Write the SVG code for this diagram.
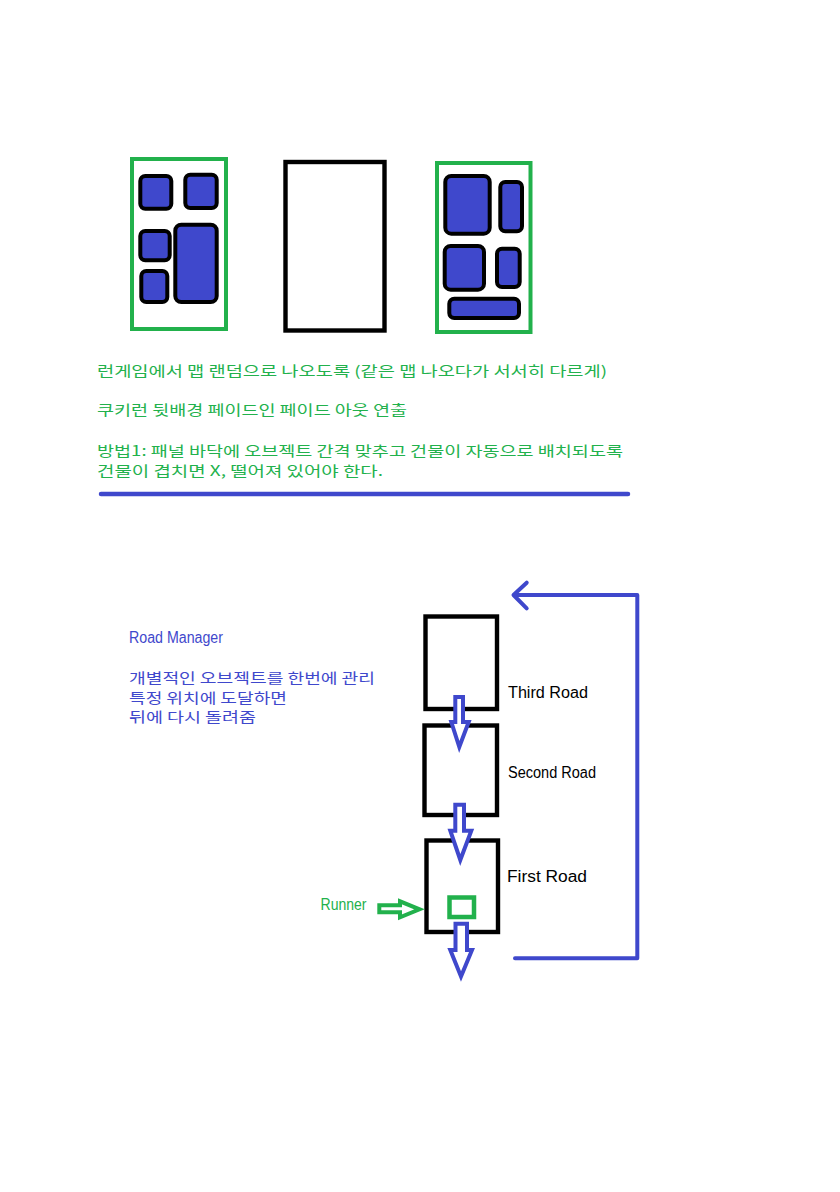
<svg xmlns="http://www.w3.org/2000/svg" width="840" height="1192" viewBox="0 0 840 1192">
<style>
.bg{fill:#ffffff}
.gbox{fill:none;stroke:#22b14c;stroke-width:4}
.kbox{fill:none;stroke:#000000;stroke-width:4.4}
.blk{fill:#3f48cc;stroke:#000000;stroke-width:4}
.ktg{font-family:"Noto Sans CJK KR","Noto Sans",sans-serif;font-size:14px;fill:#22b14c}
.ktb{font-family:"Noto Sans CJK KR","Noto Sans",sans-serif;font-size:14px;fill:#3f48cc}
.lt{font-family:"Liberation Sans","DejaVu Sans",sans-serif;font-size:16px;fill:#000000}
.ltg{font-family:"Liberation Sans","DejaVu Sans",sans-serif;font-size:16px;fill:#22b14c}
.ltb{font-family:"Liberation Sans","DejaVu Sans",sans-serif;font-size:16px;fill:#3f48cc}
.barrow{fill:#ffffff;stroke:#3f48cc;stroke-width:4;stroke-linejoin:miter}
.garrow{fill:#ffffff;stroke:#22b14c;stroke-width:4}
.loop{fill:none;stroke:#3f48cc;stroke-width:4;stroke-linecap:round;stroke-linejoin:round}
</style>
<rect class="bg" x="0" y="0" width="840" height="1192"/>

<g id="map1">
<rect class="gbox" x="132" y="159" width="94" height="170"/>
<rect class="blk" x="140.3" y="176" width="31" height="32.7" rx="5"/>
<rect class="blk" x="185.3" y="174.7" width="31.4" height="33.3" rx="5"/>
<rect class="blk" x="140.3" y="231" width="29.4" height="29.3" rx="5"/>
<rect class="blk" x="141.3" y="271" width="26" height="31" rx="5"/>
<rect class="blk" x="175.3" y="224.7" width="41.4" height="77.3" rx="6"/>
</g>

<g id="map2">
<rect class="kbox" x="285.5" y="162" width="99" height="168.5"/>
</g>

<g id="map3">
<rect class="gbox" x="437" y="163" width="93.5" height="169"/>
<rect class="blk" x="445.3" y="176" width="44.4" height="57.7" rx="6"/>
<rect class="blk" x="500.3" y="182" width="21.7" height="49.3" rx="5"/>
<rect class="blk" x="444.7" y="246" width="39.3" height="43.7" rx="6"/>
<rect class="blk" x="497" y="248.7" width="22.7" height="38.3" rx="5"/>
<rect class="blk" x="449.3" y="298.7" width="69.7" height="19.3" rx="5"/>
</g>

<g id="notes">
<text class="ktg" x="97" y="375.5" textLength="510" lengthAdjust="spacingAndGlyphs">런게임에서 맵 랜덤으로 나오도록 (같은 맵 나오다가 서서히 다르게)</text>
<text class="ktg" x="97" y="414.5" textLength="310" lengthAdjust="spacingAndGlyphs">쿠키런 뒷배경 페이드인 페이드 아웃 연출</text>
<text class="ktg" x="97" y="455.5" textLength="526" lengthAdjust="spacingAndGlyphs">방법1: 패널 바닥에 오브젝트 간격 맞추고 건물이 자동으로 배치되도록</text>
<text class="ktg" x="97" y="475.5" textLength="286" lengthAdjust="spacingAndGlyphs">건물이 겹치면 X, 떨어져 있어야 한다.</text>
</g>

<g id="separator">
<line x1="101" y1="494" x2="628" y2="494" stroke="#3f48cc" stroke-width="4.5" stroke-linecap="round"/>
</g>

<g id="road-manager-note">
<text class="ltb" x="129" y="642.5" textLength="94" lengthAdjust="spacingAndGlyphs">Road Manager</text>
<text class="ktb" x="129" y="682.5" textLength="246" lengthAdjust="spacingAndGlyphs">개별적인 오브젝트를 한번에 관리</text>
<text class="ktb" x="129" y="702.5" textLength="158" lengthAdjust="spacingAndGlyphs">특정 위치에 도달하면</text>
<text class="ktb" x="129" y="722" textLength="127" lengthAdjust="spacingAndGlyphs">뒤에 다시 돌려줌</text>
</g>

<g id="third-road">
<rect class="kbox" x="425.5" y="616.5" width="71.5" height="92.5"/>
<text class="lt" x="508" y="698" textLength="80" lengthAdjust="spacingAndGlyphs">Third Road</text>
</g>

<g id="second-road">
<rect class="kbox" x="424.5" y="725.5" width="72.5" height="89.5"/>
<text class="lt" x="508" y="778" textLength="88" lengthAdjust="spacingAndGlyphs">Second Road</text>
</g>

<g id="first-road">
<rect class="kbox" x="426.5" y="840.5" width="71.5" height="91.5"/>
<text class="lt" x="507" y="881.5" textLength="80" lengthAdjust="spacingAndGlyphs">First Road</text>
</g>

<g id="runner">
<rect x="449.5" y="897.5" width="24.5" height="19.5" fill="#ffffff" stroke="#22b14c" stroke-width="4.5"/>
<text class="ltg" x="320.5" y="909.5" textLength="46" lengthAdjust="spacingAndGlyphs">Runner</text>
</g>

<g id="connectors">
<polygon class="barrow" points="455.3,697 463,697 463,722 468.7,722 459.3,747 451.3,722 455.3,722"/>
<polygon class="barrow" points="455.3,804.7 464,804.7 464,830.7 471.3,830.7 460.3,860 450.3,830.7 455.3,830.7"/>
<polygon class="barrow" points="455.5,923.7 467,923.7 467,950 472,950 461,976.5 450.3,950 455.5,950"/>
<polygon class="garrow" points="379.3,905.3 400,905.3 400,901.3 419.5,909.3 400,917.3 400,912.3 379.3,912.3"/>
<path class="loop" d="M515,958.3 H637.3 V595 H515"/>
<path class="loop" d="M526.7,582.7 L513.5,595 L526.7,608.3"/>
</g>
</svg>
